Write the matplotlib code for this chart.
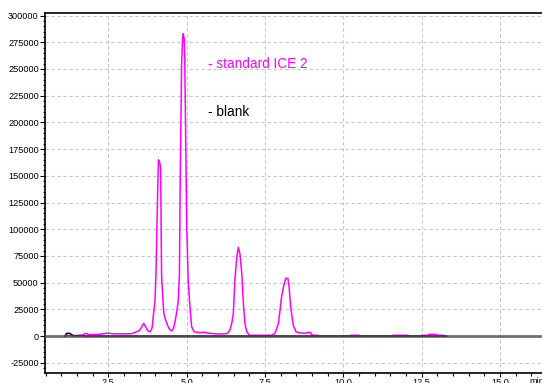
import matplotlib
matplotlib.use("Agg")
import matplotlib.pyplot as plt
from matplotlib.ticker import MultipleLocator, FuncFormatter

# Retention time (min) and detector signal for the standard run
std_time = [1.12, 1.20, 1.30, 1.45, 1.60, 1.70, 1.76, 1.82, 1.88, 2.00, 2.20, 2.38,
            2.45, 2.55, 2.65, 3.00, 3.25, 3.35, 3.45, 3.52, 3.58, 3.63, 3.68, 3.73,
            3.78, 3.84, 3.90, 3.94, 3.99, 4.02, 4.05, 4.08, 4.10, 4.14, 4.17, 4.20,
            4.25, 4.28, 4.33, 4.38, 4.43, 4.48, 4.53, 4.58, 4.63, 4.68, 4.73, 4.77,
            4.79, 4.81, 4.84, 4.87, 4.89, 4.92, 4.94, 4.97, 5.00, 5.05, 5.11, 5.16,
            5.24, 5.43, 5.55, 5.75, 6.00, 6.28, 6.33, 6.38, 6.44, 6.49, 6.52, 6.54,
            6.60, 6.65, 6.70, 6.76, 6.81, 6.86, 6.92, 7.00, 7.05, 7.71, 7.82, 7.93,
            8.03, 8.09, 8.16, 8.23, 8.27, 8.32, 8.40, 8.49, 8.62, 8.78, 8.85, 8.95,
            8.99, 9.04, 9.18, 9.22, 10.20, 10.24, 10.50, 10.54, 11.55, 11.59, 12.06,
            12.10, 12.46, 12.50, 12.71, 12.74, 12.96, 12.98, 13.19, 13.23]
std_signal = [0, 600, 400, 400, 800, 1000, 2500, 2300, 1200, 1400, 1600, 2200,
              2800, 2600, 2100, 2100, 2200, 3500, 4500, 6000, 9500, 11900, 9500, 6500,
              4500, 4000, 8000, 19700, 33000, 57000, 100000, 140000, 165000, 163000, 157000, 57000,
              30000, 20000, 15000, 11000, 7500, 5600, 5000, 7000, 13400, 22000, 32000, 57000,
              132000, 183000, 255000, 278000, 283000, 279000, 258000, 185000, 107000, 51000, 26000, 8700,
              4000, 3200, 3600, 2500, 1900, 2200, 3500, 5600, 11900, 21000, 40000, 52000,
              74000, 83000, 77000, 58700, 30600, 11900, 4000, 900, 700, 700, 2500, 11900,
              36800, 46000, 54000, 54000, 46000, 27400, 10300, 4000, 3000, 2500, 3400, 3400,
              1600, 700, 700, 0, 0, 700, 700, 0, 0, 700, 700,
              0, 0, 700, 700, 1600, 1600, 700, 700, 0]

# Blank run
blank_time = [1.12, 1.17, 1.28, 1.34, 1.40, 1.70, 1.75, 13.30]
blank_signal = [0, 2500, 2500, 1000, 300, 300, 0, 0]

series_labels = ["- standard ICE 2", "- blank"]
series_colors = ["#ff00ff", "#000000"]

tick_font = "Liberation Sans"

fig = plt.figure(figsize=(5.42, 3.83), dpi=100)
ax = fig.add_axes([45 / 542, 10 / 383, 497 / 542, 360 / 383])

ax.plot(std_time, std_signal, color=series_colors[0], lw=1.1, zorder=3)
ax.plot(blank_time, blank_signal, color=series_colors[1], lw=1.1, zorder=3.5)
ax.axhline(0, color="#505050", lw=2.0, alpha=0.8, zorder=4)

ax.set_xlim(0.48, 16.34)
ax.set_ylim(-34600, 302400)

ax.xaxis.set_major_locator(MultipleLocator(2.5))
ax.xaxis.set_minor_locator(MultipleLocator(0.5))
ax.yaxis.set_major_locator(MultipleLocator(25000))
ax.yaxis.set_minor_locator(MultipleLocator(5000))
ax.xaxis.set_major_formatter(FuncFormatter(lambda v, p: f"{v:.1f}"))
ax.yaxis.set_major_formatter(FuncFormatter(lambda v, p: f"{int(round(v))}"))

ax.tick_params(axis="both", which="major", direction="out", width=0.8,
               labelsize=6.6, colors="black")
ax.tick_params(axis="x", which="major", length=3, pad=0.5)
ax.tick_params(axis="y", which="major", length=3.5, pad=1)
ax.tick_params(axis="both", which="minor", direction="out", length=1.8, width=0.8)
for lab in ax.get_xticklabels() + ax.get_yticklabels():
    lab.set_fontfamily(tick_font)

ax.grid(True, which="major", color="#c8c8c8", lw=0.8, linestyle=(0, (3, 2.4)), zorder=0)

for side in ("left", "top", "bottom"):
    ax.spines[side].set_color("black")
    ax.spines[side].set_linewidth(1.2)
ax.spines["right"].set_visible(False)

ax.text(16.18, -0.012, "min", transform=ax.get_xaxis_transform(), ha="center", va="top",
        fontsize=6.6, family=tick_font)

ax.text(5.68, 254700, series_labels[0], color=series_colors[0], fontsize=9.8,
        family=tick_font, va="center", ha="left")
ax.text(5.68, 209700, series_labels[1], color=series_colors[1], fontsize=9.8,
        family=tick_font, va="center", ha="left")

fig.savefig("out.png", dpi=100)
